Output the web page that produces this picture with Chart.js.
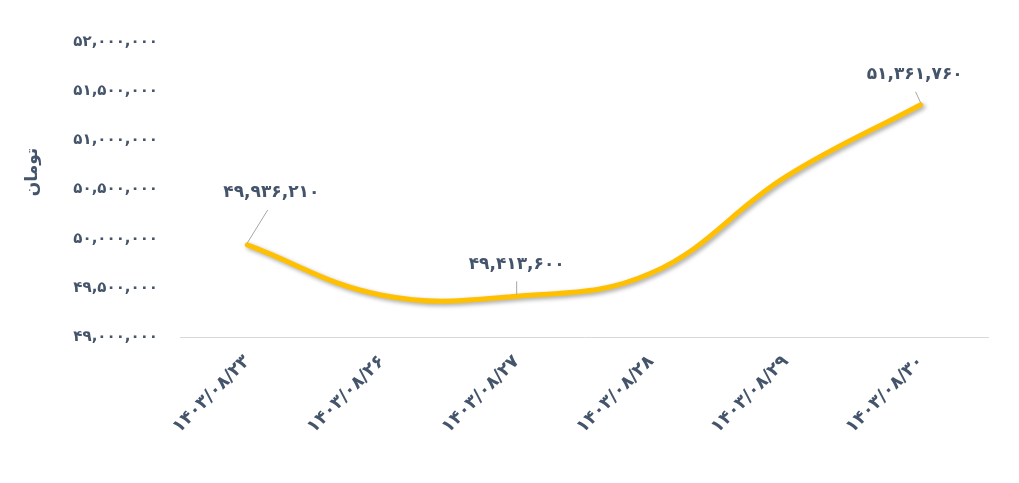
<!DOCTYPE html>
<html lang="fa">
<head>
    <meta charset="UTF-8">
    <title>قیمت</title>
    <script src="https://cdn.jsdelivr.net/npm/chart.js"></script>
    <style>
        body { margin: 0; background: #fff; }
        #wrap { width: 1019px; height: 483px; }
    </style>
</head>
<body>
<div id="wrap"><canvas id="priceChart" width="1019" height="483"></canvas></div>
<script>
    // dates (Persian calendar) and prices in toman
    const dates = ['1403/08/23', '1403/08/26', '1403/08/27', '1403/08/28', '1403/08/29', '1403/08/30'];
    const prices = [49936210, 49425000, 49413600, 49650000, 50630000, 51361760];
    const labelledPoints = [0, 2, 5];
    const yMin = 49000000, yMax = 52000000, yStep = 500000;
    const yTitle = 'تومان';

    const textColor = '#44546A';
    const fontFamily = "'DejaVu Sans', sans-serif";

    function faDigits(s) {
        return String(s).replace(/[0-9]/g, d => '۰۱۲۳۴۵۶۷۸۹'[d]);
    }
    function faNumber(n) {
        return faDigits(n.toLocaleString('en-US'));
    }

    // drop shadow under the line
    const shadowPlugin = {
        id: 'lineShadow',
        beforeDatasetsDraw(chart) {
            const c = chart.ctx;
            c.save();
            c.shadowColor = 'rgba(0,0,0,0.35)';
            c.shadowBlur = 4;
            c.shadowOffsetX = 2;
            c.shadowOffsetY = 2;
        },
        afterDatasetsDraw(chart) {
            chart.ctx.restore();
        }
    };

    // value labels with little leader lines, plus the axis title
    const leaderOffsets = { 0: [24, -52], 2: [0, -32], 5: [-6, -30] };
    const valueLabels = {
        id: 'valueLabels',
        afterDatasetsDraw(chart) {
            const c = chart.ctx;
            const meta = chart.getDatasetMeta(0);
            c.save();
            c.font = 'bold 17px ' + fontFamily;
            c.fillStyle = textColor;
            c.textAlign = 'center';
            c.textBaseline = 'middle';
            labelledPoints.forEach(i => {
                const p = meta.data[i];
                const off = leaderOffsets[i];
                const tx = p.x + off[0], ty = p.y + off[1];
                c.strokeStyle = '#a6a6a6';
                c.lineWidth = 1;
                c.beginPath();
                c.moveTo(p.x, p.y - 2);
                c.lineTo(p.x + off[0] * 0.85, ty + 17);
                c.stroke();
                c.fillText(faNumber(prices[i]), tx, ty);
            });

            c.translate(33, 172);
            c.rotate(-Math.PI / 2);
            c.font = 'bold 17px ' + fontFamily;
            c.fillText(yTitle, 0, 0);
            c.restore();
        }
    };

    new Chart(document.getElementById('priceChart'), {
        type: 'line',
        data: {
            labels: dates.map(faDigits),
            datasets: [{
                data: prices,
                borderColor: '#FFC000',
                borderWidth: 5,
                borderCapStyle: 'round',
                tension: 0.4,
                pointRadius: 0,
                fill: false
            }]
        },
        options: {
            responsive: false,
            animation: false,
            layout: { padding: { top: 42, right: 31, left: 20, bottom: 0 } },
            plugins: {
                legend: { display: false },
                tooltip: { enabled: false }
            },
            scales: {
                x: {
                    offset: true,
                    grid: { display: false, drawTicks: false },
                    border: { color: '#d9d9d9', width: 1 },
                    ticks: {
                        color: textColor,
                        font: { family: fontFamily, size: 18, weight: 'bold' },
                        minRotation: 45,
                        maxRotation: 45,
                        padding: 14
                    },
                    afterFit(scale) { scale.height = 146; }
                },
                y: {
                    min: yMin,
                    max: yMax,
                    grid: { display: false, drawTicks: false },
                    border: { display: false },
                    ticks: {
                        stepSize: yStep,
                        color: textColor,
                        font: { family: fontFamily, size: 15, weight: 'bold' },
                        padding: 22,
                        callback: v => faNumber(v)
                    },
                    afterFit(scale) { scale.width = 160; }
                }
            }
        },
        plugins: [shadowPlugin, valueLabels]
    });
</script>
</body>
</html>
